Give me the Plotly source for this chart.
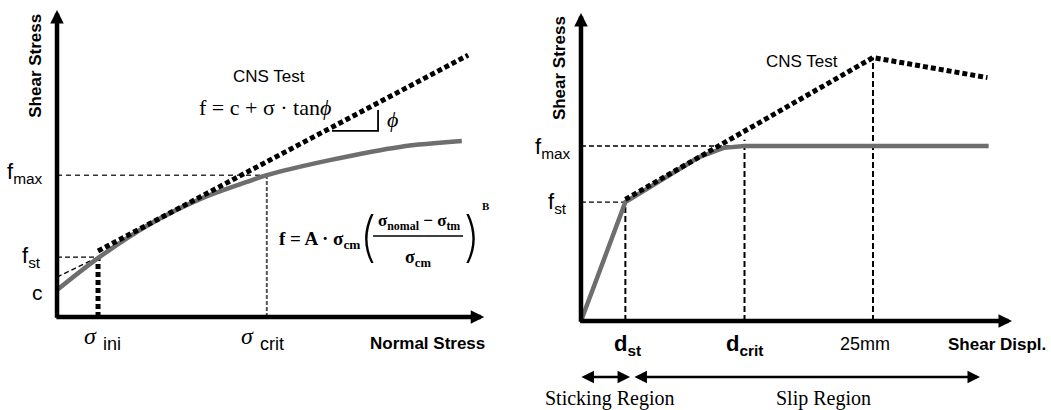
import plotly.graph_objects as go

# ---------------- left panel: shear stress vs normal stress (arbitrary units) ----
sig_ini = 0.97
sig_crit = 4.96
c_val = 0.88
f_st_l = 1.95
f_max_l = 4.62

# nonlinear strength model curve
model_sigma = [0.0, 0.97, 2.20, 3.38, 4.49, 4.96, 6.45, 8.11, 9.57]
model_tau = [0.88, 1.92, 3.03, 3.84, 4.40, 4.62, 5.11, 5.54, 5.73]

# CNS test envelope f = c + sigma tan(phi)
cns_sigma = [0.97, 9.72]
cns_tau = [2.15, 8.53]

# linear extension back to the shear-stress axis
ext_sigma = [0.0, 0.97]
ext_tau = [1.30, 1.95]

# slope marker of the envelope
phi_run_sigma = [6.50, 7.59, 7.59]
phi_run_tau = [6.06, 6.06, 6.74]

# ---------------- right panel: shear stress vs shear displacement (mm) ----------
d_st = 3.8
d_crit = 14.0
d_peak = 25.0
f_st_r = 3.86
f_max_r = 5.68
f_peak_r = 8.55

slip_disp = [0.0, 3.8, 10.0, 12.2, 14.0, 34.9]
slip_tau = [0.0, 3.86, 5.30, 5.62, 5.68, 5.68]

cns_disp = [3.8, 25.0, 34.8]
cns_tau_r = [3.95, 8.55, 7.90]

SANS = "Liberation Sans, Arial, sans-serif"
SERIF = "Liberation Serif, Times New Roman, serif"
THIN = "Inter, Lato, DejaVu Sans, sans-serif"
GRAY = "#6e6e6e"
DOT = "5px,3px"

fig = go.Figure()


def line(xs, ys, axis, color="black", width=1.3, dash="solid", shape="linear"):
    xa, ya = ("x", "y") if axis == 1 else ("x2", "y2")
    fig.add_trace(go.Scatter(
        x=xs, y=ys, xaxis=xa, yaxis=ya, mode="lines",
        line=dict(color=color, width=width, dash=dash, shape=shape, smoothing=1.0),
        hoverinfo="skip", showlegend=False, cliponaxis=False,
    ))


# left panel guides
line([0, sig_ini], [f_st_l, f_st_l], 1, width=1.3, dash="5px,3px")
line([0, sig_crit], [f_max_l, f_max_l], 1, color="#333", width=1.5, dash="5px,4px")
line(ext_sigma, ext_tau, 1, width=1.2, dash="5px,3px")
line([sig_crit, sig_crit], [0, f_max_l - 0.06], 1, color="#555", width=2, dash="4px,2px")
line([sig_ini, sig_ini], [0, f_st_l - 0.05], 1, width=5, dash=DOT)
line(phi_run_sigma, phi_run_tau, 1, width=1.8)
# left panel curves
line(model_sigma, model_tau, 1, color=GRAY, width=4.5, shape="spline")
line(cns_sigma, cns_tau, 1, width=5, dash=DOT)

# right panel guides
line([0, d_st], [f_st_r, f_st_r], 2, width=1.3, dash="5px,3px")
line([0, d_crit], [f_max_r, f_max_r], 2, width=1.3, dash="5px,3px")
line([d_st, d_st], [0, f_st_r], 2, width=2, dash="6px,3px")
line([d_crit, d_crit], [0, 5.88], 2, width=2, dash="6px,3px")
line([d_peak, d_peak], [0, f_peak_r], 2, width=2, dash="6px,3px")
# right panel curves
line(slip_disp, slip_tau, 2, color=GRAY, width=4.5)
line(cns_disp, cns_tau_r, 2, width=5, dash=DOT)

ann = []


def text(x, y, s, axis=1, size=17, family=SANS, xanchor="center", yanchor="middle",
         angle=0, color="black", weight=None):
    xa, ya = ("x", "y") if axis == 1 else ("x2", "y2")
    font = dict(family=family, size=size, color=color)
    if weight is not None:
        font["weight"] = weight
    ann.append(dict(x=x, y=y, xref=xa, yref=ya, text=s, showarrow=False,
                    xanchor=xanchor, yanchor=yanchor, textangle=angle, font=font))


def arrow(x0, y0, x1, y1, axis=1, width=4.5, size=0.6, side="end"):
    xa, ya = ("x", "y") if axis == 1 else ("x2", "y2")
    ann.append(dict(x=x1, y=y1, ax=x0, ay=y0, xref=xa, yref=ya, axref=xa, ayref=ya,
                    text="", showarrow=True, arrowhead=2, startarrowhead=2,
                    arrowsize=size, startarrowsize=size, arrowwidth=width,
                    arrowcolor="black", arrowside=side))


# axes with arrow heads
arrow(-0.05, 0, 10.1, 0, 1)
arrow(0, -0.07, 0, 10.0, 1)
arrow(-0.2, 0, 36.9, 0, 2)
arrow(0, -0.07, 0, 10.0, 2)

# left panel labels
text(-0.50, 8.18, "<b>Shear Stress</b>", 1, size=17, angle=-90)
text(-0.28, 4.70, "f<sub>max</sub>", 1, size=22, xanchor="right")
text(-0.33, 1.95, "f<sub>st</sub>", 1, size=22, xanchor="right")
text(-0.47, 0.80, "c", 1, size=21)
text(0.78, -0.62, "<i>σ</i>", 1, size=24, family=SERIF)
text(1.29, -0.88, "ini", 1, size=18)
text(4.50, -0.62, "<i>σ</i>", 1, size=24, family=SERIF)
text(5.09, -0.88, "crit", 1, size=18)
text(8.75, -0.85, "<b>Normal Stress</b>", 1, size=17)
text(5.01, 7.82, "CNS Test", 1, size=17)
text(4.92, 6.81, "f = c + σ · tan<i>ϕ</i>", 1, size=22, family=SERIF)
text(7.94, 6.42, "<i>ϕ</i>", 1, size=22, family=SERIF)

# strength model formula
text(7.21, 2.51, "<b>f = A · σ<sub>cm</sub></b>", 1, size=19, family=SERIF, xanchor="right")
text(7.36, 2.62, "(", 1, size=54, family=THIN, weight=200)
text(8.56, 3.09, "<b>σ<sub>nomal</sub> − σ<sub>tm</sub></b>", 1, size=17, family=SERIF)
line([7.47, 9.60], [2.64, 2.64], 1, width=1.5)
text(8.53, 1.92, "<b>σ<sub>cm</sub></b>", 1, size=18, family=SERIF)
text(9.80, 2.62, ")", 1, size=54, family=THIN, weight=200)
text(10.0, 3.62, "<b>B</b>", 1, size=11, family=SERIF, xanchor="left")

# right panel labels
text(-1.88, 8.21, "<b>Shear Stress</b>", 2, size=17, angle=-90)
text(-0.68, 5.62, "f<sub>max</sub>", 2, size=22, xanchor="right")
text(-1.03, 3.82, "f<sub>st</sub>", 2, size=22, xanchor="right")
text(18.9, 8.41, "CNS Test", 2, size=17)
text(4.0, -0.78, "<b>d<sub>st</sub></b>", 2, size=22)
text(14.0, -0.78, "<b>d<sub>crit</sub></b>", 2, size=22)
text(24.3, -0.75, "25mm", 2, size=18)
text(35.6, -0.75, "<b>Shear Displ.</b>", 2, size=17)

# region arrows
arrow(-0.09, -1.82, 4.2, -1.82, 2, width=2.5, size=1.0, side="end+start")
arrow(4.45, -1.82, 34.16, -1.82, 2, width=2.5, size=1.0, side="end+start")
text(2.48, -2.52, "Sticking Region", 2, size=20, family=SERIF)
text(20.8, -2.52, "Slip Region", 2, size=20, family=SERIF)

hidden = dict(visible=False, fixedrange=True)
fig.update_layout(
    width=1051, height=410,
    margin=dict(l=0, r=0, t=0, b=0),
    paper_bgcolor="white", plot_bgcolor="rgba(0,0,0,0)",
    showlegend=False,
    xaxis=dict(domain=[0, 0.5], range=[-1.348, 11.076], **hidden),
    yaxis=dict(domain=[0, 1], range=[-3.029, 10.326], **hidden),
    xaxis2=dict(domain=[0.5, 1], range=[-4.75, 40.24], anchor="y2", **hidden),
    yaxis2=dict(domain=[0, 1], range=[-2.89, 10.42], anchor="x2", **hidden),
    annotations=ann,
)

fig.write_html("out.html")
